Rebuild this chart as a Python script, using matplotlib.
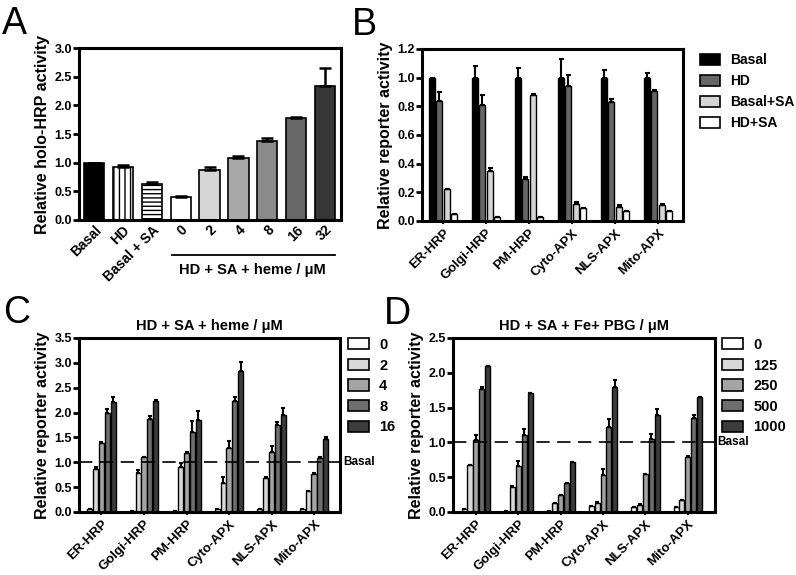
import numpy as np
import matplotlib
matplotlib.use("Agg")
import matplotlib.pyplot as plt
from matplotlib.patches import Patch
from matplotlib.lines import Line2D
import matplotlib.transforms as mtransforms

plt.rcParams['font.family'] = ['Liberation Sans', 'DejaVu Sans']
plt.rcParams['font.weight'] = 'bold'
plt.rcParams['hatch.linewidth'] = 1.0

# ---- panel A data
a_labels = ["Basal", "HD", "Basal + SA", "0", "2", "4", "8", "16", "32"]
a_vals = [1.00, 0.93, 0.63, 0.40, 0.88, 1.08, 1.37, 1.78, 2.34]
a_err = [0.0, 0.03, 0.03, 0.02, 0.04, 0.04, 0.06, 0.01, 0.32]
a_colors = ["black", "white", "white", "white", "#d6d6d6", "#a8a8a8", "#8a8a8a", "#686868", "#363636"]
a_hatch = [None, "|||", "----", None, None, None, None, None, None]

# ---- panel B data
reporters = ["ER-HRP", "Golgi-HRP", "PM-HRP", "Cyto-APX", "NLS-APX", "Mito-APX"]
b_series = ["Basal", "HD", "Basal+SA", "HD+SA"]
b_vals = [
    [1.00, 1.00, 1.00, 1.00, 1.00, 1.00],
    [0.84, 0.81, 0.29, 0.94, 0.83, 0.91],
    [0.22, 0.35, 0.88, 0.12, 0.10, 0.11],
    [0.05, 0.03, 0.03, 0.09, 0.07, 0.07],
]
b_err = [
    [0.00, 0.08, 0.07, 0.13, 0.05, 0.03],
    [0.06, 0.07, 0.02, 0.08, 0.02, 0.005],
    [0.005, 0.02, 0.005, 0.01, 0.01, 0.01],
    [0.0, 0.0, 0.0, 0.0, 0.0, 0.0],
]
b_colors = ["black", "#666666", "#d4d4d4", "white"]

# ---- panel C data
c_series = ["0", "2", "4", "8", "16"]
c_vals = [
    [0.05, 0.02, 0.02, 0.07, 0.05, 0.05],
    [0.86, 0.79, 0.91, 0.59, 0.69, 0.42],
    [1.39, 1.10, 1.19, 1.28, 1.21, 0.76],
    [2.00, 1.88, 1.61, 2.23, 1.75, 1.08],
    [2.22, 2.24, 1.85, 2.84, 1.95, 1.46],
]
c_err = [
    [0.0, 0.0, 0.0, 0.0, 0.0, 0.0],
    [0.05, 0.05, 0.08, 0.12, 0.02, 0.01],
    [0.01, 0.01, 0.02, 0.15, 0.12, 0.02],
    [0.07, 0.06, 0.22, 0.08, 0.07, 0.02],
    [0.10, 0.02, 0.19, 0.17, 0.14, 0.05],
]
c_colors = ["white", "#d8d8d8", "#a4a4a4", "#6e6e6e", "#3c3c3c"]

# ---- panel D data
d_series = ["0", "125", "250", "500", "1000"]
d_vals = [
    [0.05, 0.02, 0.02, 0.09, 0.07, 0.07],
    [0.67, 0.36, 0.13, 0.135, 0.105, 0.17],
    [1.04, 0.66, 0.245, 0.53, 0.54, 0.79],
    [1.76, 1.10, 0.41, 1.22, 1.05, 1.35],
    [2.10, 1.71, 0.72, 1.80, 1.40, 1.65],
]
d_err = [
    [0.0, 0.0, 0.0, 0.0, 0.0, 0.0],
    [0.0, 0.01, 0.0, 0.01, 0.01, 0.0],
    [0.07, 0.07, 0.0, 0.09, 0.01, 0.01],
    [0.04, 0.09, 0.01, 0.12, 0.07, 0.04],
    [0.0, 0.0, 0.0, 0.10, 0.08, 0.0],
]


def style_axes(ax, ymax, step):
    for s in ax.spines.values():
        s.set_linewidth(2.2)
    ax.set_ylim(0, ymax)
    ax.set_yticks(np.arange(0, ymax + 1e-9, step))
    ax.set_yticklabels([f"{v:.1f}" for v in np.arange(0, ymax + 1e-9, step)])
    ax.tick_params(axis='y', width=2, length=4, labelsize=9, pad=1)
    ax.tick_params(axis='x', width=1.5, length=2.5, labelsize=9.5, pad=2)


def grouped(ax, vals, errs, colors, step, width, ecap):
    n = len(vals)
    x = np.arange(len(reporters))
    for i in range(n):
        xi = x + (i - (n - 1) / 2) * step
        ax.bar(xi, vals[i], width, color=colors[i], edgecolor="black", linewidth=1.0, zorder=2)
        ax.errorbar(xi, vals[i], yerr=[np.zeros(len(x)), errs[i]], fmt="none", ecolor="black",
                    elinewidth=1.5, capsize=ecap, capthick=1.5, zorder=3)
    ax.set_xticks(x)
    ax.set_xticklabels(reporters, rotation=45, ha="right", rotation_mode="anchor")


fig = plt.figure(figsize=(7.96, 5.75), dpi=100)

# ---------------- A
axA = fig.add_axes([0.0992, 0.6174, 0.3291, 0.2991])
xa = np.arange(len(a_labels))
for i in range(len(xa)):
    axA.bar(xa[i], a_vals[i], 0.7, color=a_colors[i], edgecolor="black", linewidth=1.2,
            hatch=a_hatch[i], zorder=2)
axA.errorbar(xa, a_vals, yerr=[np.zeros(len(xa)), a_err], fmt="none", ecolor="black",
             elinewidth=1.8, capsize=4, capthick=1.8, zorder=3)
axA.set_xlim(-0.52, 8.55)
style_axes(axA, 3.0, 0.5)
axA.set_xticks(xa)
axA.set_xticklabels(a_labels, rotation=45, ha="right", rotation_mode="anchor", fontsize=10)
axA.tick_params(axis='x', length=0)
axA.set_ylabel("Relative holo-HRP activity", fontsize=11.5, fontweight="bold", labelpad=3)
tr = mtransforms.blended_transform_factory(axA.transData, axA.transAxes)
axA.add_line(Line2D([2.7, 8.35], [-0.205, -0.205], transform=tr, color="black", lw=1.3, clip_on=False))
axA.text(5.5, -0.29, "HD + SA + heme / μM", transform=tr, ha="center", va="center", fontsize=10.5)

# ---------------- B
axB = fig.add_axes([0.5302, 0.6157, 0.3279, 0.2991])
grouped(axB, b_vals, b_err, b_colors, 0.17, 0.14, 1.8)
axB.set_xlim(-0.49, 5.58)
style_axes(axB, 1.2, 0.2)
axB.set_ylabel("Relative reporter activity", fontsize=11.5, fontweight="bold", labelpad=3)
hb = [Patch(facecolor=c, edgecolor="black", linewidth=1.2) for c in b_colors]
axB.legend(hb, b_series, loc="upper left", bbox_to_anchor=(1.065, 0.975), frameon=False,
           fontsize=10, handlelength=1.45, handleheight=0.8, labelspacing=0.5,
           handletextpad=0.7, borderpad=0, borderaxespad=0)

# ---------------- C
axC = fig.add_axes([0.0992, 0.1096, 0.3279, 0.3026])
grouped(axC, c_vals, c_err, c_colors, 0.139, 0.12, 1.6)
axC.set_xlim(-0.53, 5.61)
style_axes(axC, 3.5, 0.5)
axC.axhline(1.0, color="black", lw=1.2, ls=(0, (8, 4.5)), zorder=4)
axC.text(1.012, 1.0, "Basal", transform=mtransforms.blended_transform_factory(axC.transAxes, axC.transData),
         ha="left", va="center", fontsize=8.5)
axC.set_title("HD + SA + heme / μM", fontsize=10.5, fontweight="bold", pad=6)
axC.set_ylabel("Relative reporter activity", fontsize=11.5, fontweight="bold", labelpad=3)
hc = [Patch(facecolor=c, edgecolor="black", linewidth=1.2) for c in c_colors]
axC.legend(hc, c_series, loc="upper left", bbox_to_anchor=(1.03, 1.0), frameon=False,
           fontsize=10.5, handlelength=1.45, handleheight=0.8, labelspacing=0.45,
           handletextpad=0.7, borderpad=0, borderaxespad=0)

# ---------------- D
axD = fig.add_axes([0.5691, 0.1096, 0.3291, 0.3026])
grouped(axD, d_vals, d_err, c_colors, 0.139, 0.12, 1.6)
axD.set_xlim(-0.54, 5.64)
style_axes(axD, 2.5, 0.5)
axD.axhline(1.0, color="black", lw=1.2, ls=(0, (8, 4.5)), zorder=4)
axD.text(1.01, 1.0, "Basal", transform=mtransforms.blended_transform_factory(axD.transAxes, axD.transData),
         ha="left", va="center", fontsize=8.5)
axD.set_title("HD + SA + Fe+ PBG / μM", fontsize=10.5, fontweight="bold", pad=6)
axD.set_ylabel("Relative reporter activity", fontsize=11.5, fontweight="bold", labelpad=3)
axD.legend(hc, d_series, loc="upper left", bbox_to_anchor=(1.027, 1.0), frameon=False,
           fontsize=10.5, handlelength=1.45, handleheight=0.8, labelspacing=0.45,
           handletextpad=0.7, borderpad=0, borderaxespad=0)

# panel letters
for letter, (px, py) in {"A": (2, 34), "B": (352, 35), "C": (3, 323), "D": (384, 324)}.items():
    fig.text(px / 796, 1 - py / 575, letter, fontsize=27, fontweight="normal", ha="left", va="baseline")

fig.savefig("out.png", dpi=100)
plt.close()
